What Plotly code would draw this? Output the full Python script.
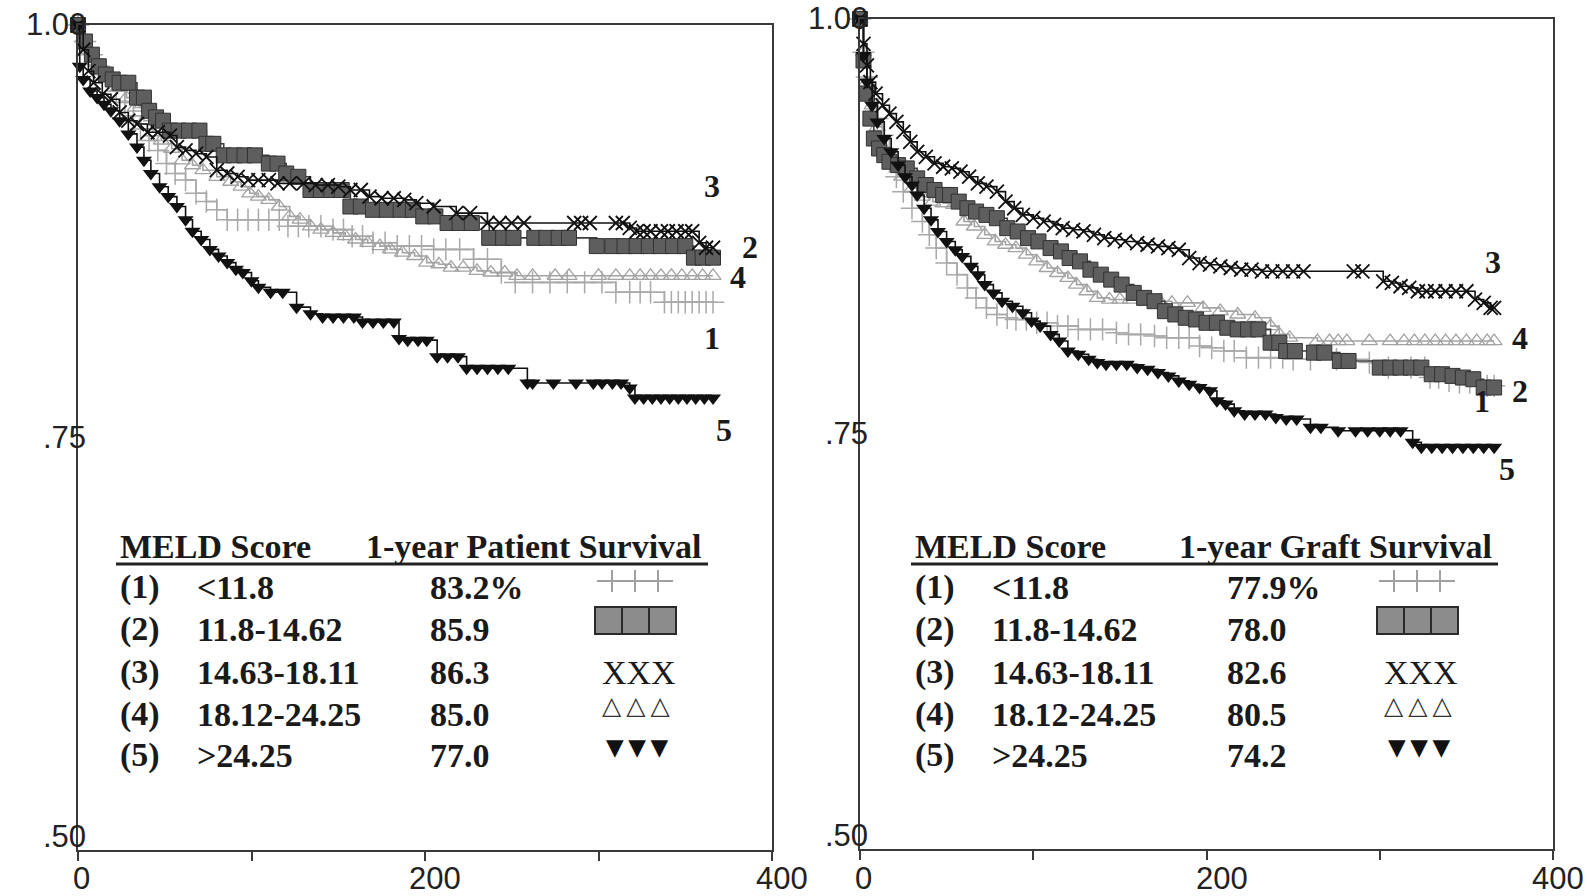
import plotly.graph_objects as go

W, H = 1587, 896

# ---------------- data ----------------
x_tick_vals = [0, 100, 200, 300, 400]
x_label_vals = [0, 200, 400]
x_label_text = ["0", "200", "400"]
y_tick_vals = [1.00, 0.75, 0.50]
y_tick_text = ["1.00", ".75", ".50"]

meld_groups = ["(1)", "(2)", "(3)", "(4)", "(5)"]
meld_ranges = ["<11.8", "11.8-14.62", "14.63-18.11", "18.12-24.25", ">24.25"]
patient_1yr = ["83.2%", "85.9", "86.3", "85.0", "77.0"]
graft_1yr = ["77.9%", "78.0", "82.6", "80.5", "74.2"]
curve_numbers = ["1", "2", "3", "4", "5"]

# Kaplan-Meier points (days, survival); flat repeats = censor marks
patient_g1 = [(0, 1.0), (4, 0.99), (8, 0.982), (12, 0.975), (17, 0.967), (22, 0.96), (27, 0.953), (32, 0.945),
              (36, 0.937), (41, 0.93), (46, 0.924), (51, 0.916), (56, 0.91), (62, 0.906), (68, 0.898), (74, 0.893),
              (80, 0.888), (86, 0.882), (92, 0.882), (98, 0.882), (104, 0.882), (110, 0.882), (116, 0.882),
              (121, 0.878), (127, 0.878), (133, 0.878), (140, 0.878), (147, 0.876), (153, 0.876), (158, 0.872),
              (164, 0.872), (170, 0.868), (177, 0.868), (184, 0.866), (191, 0.866), (198, 0.866), (205, 0.864),
              (212, 0.864), (220, 0.864), (228, 0.858), (236, 0.858), (244, 0.85), (252, 0.844), (262, 0.844),
              (272, 0.844), (282, 0.844), (292, 0.844), (302, 0.844), (310, 0.838), (318, 0.838), (324, 0.838),
              (330, 0.838), (338, 0.832), (342, 0.832), (346, 0.832), (350, 0.832), (354, 0.832), (358, 0.832),
              (362, 0.832), (366, 0.832)]
patient_g2 = [(0, 1.0), (4, 0.99), (8, 0.982), (12, 0.975), (16, 0.97), (20, 0.967), (24, 0.965), (29, 0.965),
              (34, 0.956), (38, 0.956), (41, 0.948), (45, 0.944), (49, 0.942), (53, 0.936), (58, 0.936),
              (64, 0.936), (70, 0.936), (74, 0.928), (78, 0.928), (84, 0.921), (90, 0.921), (96, 0.921),
              (102, 0.921), (110, 0.916), (115, 0.916), (120, 0.91), (127, 0.908), (134, 0.9), (140, 0.9),
              (146, 0.9), (152, 0.9), (157, 0.89), (163, 0.89), (170, 0.888), (178, 0.888), (186, 0.888),
              (193, 0.888), (199, 0.884), (206, 0.884), (213, 0.88), (220, 0.88), (227, 0.88), (237, 0.871),
              (245, 0.871), (251, 0.871), (263, 0.871), (270, 0.871), (277, 0.871), (283, 0.871), (299, 0.866),
              (308, 0.866), (315, 0.866), (322, 0.866), (329, 0.866), (336, 0.866), (343, 0.866), (350, 0.866),
              (355, 0.859), (360, 0.859), (366, 0.859)]
patient_g3 = [(0, 1.0), (3, 0.985), (6, 0.972), (9, 0.965), (14, 0.958), (19, 0.955), (24, 0.947), (29, 0.942),
              (34, 0.94), (40, 0.935), (46, 0.935), (53, 0.933), (57, 0.926), (62, 0.924), (68, 0.922), (74, 0.92),
              (80, 0.912), (86, 0.91), (92, 0.908), (98, 0.906), (104, 0.906), (110, 0.906), (115, 0.904),
              (122, 0.904), (130, 0.904), (137, 0.903), (144, 0.903), (150, 0.902), (157, 0.9), (163, 0.9),
              (168, 0.896), (175, 0.895), (182, 0.895), (188, 0.894), (195, 0.892), (205, 0.89), (218, 0.886),
              (226, 0.886), (236, 0.88), (243, 0.88), (250, 0.88), (257, 0.88), (286, 0.88), (290, 0.88),
              (295, 0.88), (310, 0.88), (314, 0.88), (318, 0.877), (322, 0.875), (326, 0.875), (330, 0.875),
              (336, 0.875), (340, 0.875), (345, 0.875), (350, 0.875), (354, 0.875), (358, 0.868), (362, 0.865),
              (366, 0.865)]
patient_g4 = [(0, 1.0), (3, 0.992), (6, 0.985), (10, 0.978), (14, 0.972), (18, 0.968), (23, 0.962), (28, 0.956),
              (33, 0.95), (38, 0.942), (43, 0.935), (48, 0.93), (54, 0.925), (60, 0.918), (66, 0.915), (72, 0.912),
              (80, 0.908), (88, 0.905), (94, 0.902), (99, 0.898), (104, 0.896), (110, 0.894), (116, 0.89),
              (122, 0.884), (128, 0.882), (134, 0.878), (140, 0.876), (147, 0.874), (154, 0.872), (160, 0.87),
              (167, 0.868), (174, 0.866), (180, 0.864), (187, 0.862), (194, 0.86), (201, 0.856), (208, 0.855),
              (215, 0.853), (222, 0.853), (230, 0.851), (238, 0.85), (246, 0.85), (253, 0.848), (262, 0.848),
              (275, 0.848), (283, 0.848), (300, 0.848), (310, 0.848), (318, 0.848), (324, 0.848), (330, 0.848),
              (336, 0.848), (342, 0.848), (348, 0.848), (354, 0.848), (360, 0.848), (366, 0.848)]
patient_g5 = [(0, 1.0), (1, 0.975), (3, 0.967), (7, 0.96), (11, 0.956), (15, 0.952), (19, 0.948), (24, 0.942),
              (29, 0.934), (34, 0.926), (38, 0.918), (42, 0.91), (47, 0.902), (52, 0.896), (57, 0.89), (62, 0.882),
              (66, 0.875), (71, 0.87), (76, 0.864), (81, 0.86), (86, 0.856), (91, 0.852), (95, 0.85), (100, 0.845),
              (104, 0.841), (111, 0.838), (118, 0.838), (126, 0.829), (134, 0.825), (141, 0.823), (147, 0.823),
              (153, 0.823), (159, 0.823), (164, 0.82), (170, 0.82), (176, 0.82), (182, 0.82), (185, 0.81),
              (190, 0.809), (196, 0.809), (201, 0.809), (207, 0.799), (213, 0.799), (219, 0.799), (224, 0.792),
              (230, 0.792), (236, 0.792), (242, 0.792), (248, 0.792), (259, 0.783), (262, 0.783), (274, 0.783),
              (287, 0.783), (297, 0.783), (302, 0.783), (308, 0.783), (313, 0.783), (318, 0.78), (321, 0.774),
              (326, 0.774), (331, 0.774), (336, 0.774), (341, 0.774), (346, 0.774), (351, 0.774), (356, 0.774),
              (361, 0.774), (366, 0.774)]

graft_g1 = [(0, 1.0), (2, 0.98), (4, 0.965), (7, 0.952), (10, 0.94), (13, 0.93), (17, 0.914), (21, 0.905),
            (25, 0.896), (30, 0.886), (36, 0.878), (40, 0.87), (44, 0.862), (50, 0.853), (56, 0.846), (62, 0.838),
            (67, 0.832), (73, 0.826), (79, 0.822), (85, 0.82), (90, 0.819), (96, 0.819), (102, 0.817),
            (108, 0.817), (114, 0.815), (120, 0.815), (126, 0.813), (133, 0.813), (140, 0.813), (148, 0.811),
            (155, 0.81), (162, 0.81), (170, 0.809), (177, 0.808), (184, 0.808), (190, 0.808), (196, 0.803),
            (203, 0.802), (210, 0.8), (216, 0.8), (223, 0.796), (230, 0.796), (237, 0.796), (244, 0.796),
            (250, 0.795), (260, 0.795), (275, 0.795), (294, 0.793), (305, 0.79), (318, 0.79), (326, 0.79),
            (329, 0.784), (334, 0.784), (340, 0.782), (346, 0.781), (352, 0.781), (358, 0.779), (362, 0.779),
            (366, 0.779)]
graft_g2 = [(0, 1.0), (2, 0.975), (4, 0.955), (6, 0.94), (8, 0.928), (11, 0.922), (14, 0.918), (17, 0.914),
            (22, 0.912), (27, 0.91), (33, 0.904), (38, 0.9), (43, 0.897), (48, 0.894), (52, 0.894), (57, 0.89),
            (62, 0.886), (67, 0.884), (73, 0.882), (79, 0.88), (85, 0.874), (91, 0.872), (97, 0.868),
            (103, 0.866), (110, 0.862), (116, 0.86), (121, 0.856), (127, 0.854), (133, 0.849), (139, 0.846),
            (145, 0.843), (151, 0.84), (158, 0.835), (164, 0.832), (170, 0.83), (176, 0.824), (182, 0.822),
            (188, 0.82), (194, 0.819), (200, 0.817), (206, 0.817), (212, 0.814), (218, 0.813), (224, 0.813),
            (230, 0.813), (237, 0.805), (242, 0.805), (246, 0.8), (251, 0.8), (262, 0.799), (268, 0.799),
            (277, 0.794), (282, 0.794), (300, 0.79), (306, 0.79), (312, 0.79), (318, 0.79), (324, 0.79),
            (330, 0.786), (336, 0.786), (342, 0.785), (348, 0.784), (354, 0.783), (360, 0.778), (366, 0.778)]
graft_g3 = [(0, 1.0), (2, 0.985), (4, 0.972), (6, 0.962), (9, 0.955), (13, 0.948), (17, 0.943), (21, 0.938),
            (25, 0.932), (29, 0.926), (33, 0.92), (38, 0.917), (43, 0.913), (48, 0.911), (53, 0.91), (58, 0.908),
            (63, 0.905), (68, 0.901), (73, 0.899), (79, 0.896), (84, 0.89), (89, 0.886), (94, 0.882), (100, 0.88),
            (106, 0.878), (112, 0.876), (117, 0.874), (123, 0.873), (129, 0.872), (135, 0.87), (141, 0.868),
            (147, 0.867), (153, 0.866), (160, 0.865), (166, 0.864), (172, 0.863), (178, 0.862), (184, 0.861),
            (190, 0.856), (196, 0.853), (202, 0.852), (208, 0.851), (214, 0.85), (220, 0.849), (226, 0.849),
            (232, 0.848), (238, 0.848), (244, 0.848), (250, 0.848), (256, 0.848), (285, 0.848), (290, 0.848),
            (302, 0.842), (307, 0.841), (312, 0.839), (317, 0.838), (322, 0.836), (327, 0.836), (332, 0.836),
            (338, 0.836), (344, 0.836), (350, 0.836), (355, 0.831), (360, 0.829), (364, 0.826), (366, 0.826)]
graft_g4 = [(0, 1.0), (2, 0.98), (4, 0.962), (7, 0.948), (10, 0.935), (14, 0.922), (19, 0.912), (24, 0.905),
            (30, 0.898), (36, 0.893), (42, 0.89), (48, 0.889), (54, 0.888), (60, 0.878), (66, 0.875), (72, 0.87),
            (78, 0.866), (84, 0.864), (90, 0.862), (96, 0.858), (102, 0.854), (108, 0.85), (114, 0.847),
            (120, 0.844), (125, 0.84), (131, 0.836), (137, 0.832), (144, 0.831), (150, 0.831), (156, 0.831),
            (164, 0.831), (173, 0.83), (180, 0.829), (189, 0.829), (198, 0.826), (208, 0.824), (218, 0.822),
            (228, 0.82), (237, 0.815), (242, 0.81), (248, 0.808), (264, 0.806), (271, 0.806), (276, 0.806),
            (281, 0.806), (294, 0.806), (306, 0.806), (314, 0.806), (320, 0.806), (326, 0.806), (332, 0.806),
            (338, 0.806), (344, 0.806), (350, 0.806), (356, 0.806), (362, 0.806), (366, 0.806)]
graft_g5 = [(0, 1.0), (2, 0.978), (4, 0.962), (7, 0.948), (10, 0.938), (14, 0.928), (18, 0.92), (22, 0.912),
            (26, 0.905), (30, 0.9), (33, 0.894), (37, 0.886), (41, 0.879), (45, 0.872), (50, 0.866), (55, 0.861),
            (59, 0.857), (64, 0.851), (68, 0.846), (72, 0.84), (77, 0.835), (82, 0.83), (88, 0.827), (94, 0.823),
            (99, 0.818), (104, 0.815), (110, 0.81), (115, 0.806), (120, 0.8), (126, 0.798), (132, 0.795),
            (137, 0.793), (142, 0.792), (148, 0.792), (154, 0.792), (160, 0.79), (166, 0.789), (172, 0.787),
            (178, 0.785), (184, 0.782), (190, 0.78), (196, 0.778), (202, 0.776), (206, 0.77), (211, 0.768),
            (216, 0.764), (222, 0.762), (228, 0.762), (234, 0.762), (240, 0.76), (246, 0.759), (252, 0.759),
            (260, 0.754), (266, 0.754), (276, 0.752), (286, 0.752), (293, 0.752), (300, 0.752), (306, 0.752),
            (312, 0.752), (319, 0.745), (324, 0.742), (330, 0.742), (336, 0.742), (342, 0.742), (348, 0.742),
            (354, 0.742), (360, 0.742), (366, 0.742)]

# ---------------- styles ----------------
styles = {
    "1": dict(line="#a9a9a9", marker=dict(symbol="cross-thin", size=16, color="#a9a9a9",
                                           line=dict(color="#a9a9a9", width=1.5))),
    "2": dict(line="#3c3c3c", marker=dict(symbol="square", size=15, color="#5e5e5e",
                                           line=dict(color="#333333", width=1))),
    "3": dict(line="#111111", marker=dict(symbol="x-thin", size=14, color="#111111",
                                           line=dict(color="#111111", width=1.8))),
    "4": dict(line="#a3a3a3", marker=dict(symbol="triangle-up-open", size=14, color="#a3a3a3",
                                           line=dict(color="#a3a3a3", width=1.3))),
    "5": dict(line="#111111", marker=dict(symbol="triangle-down", size=14, color="#111111",
                                           line=dict(color="#111111", width=0))),
}
draw_order = ["1", "4", "2", "5", "3"]

panels = [
    dict(xa="x", ya="y", curves={"1": patient_g1, "2": patient_g2, "3": patient_g3, "4": patient_g4, "5": patient_g5}),
    dict(xa="x2", ya="y2", curves={"1": graft_g1, "2": graft_g2, "3": graft_g3, "4": graft_g4, "5": graft_g5}),
]

fig = go.Figure()
for p in panels:
    for k in draw_order:
        pts = p["curves"][k]
        st = styles[k]
        fig.add_trace(go.Scatter(
            x=[a for a, b in pts], y=[b for a, b in pts],
            mode="lines+markers", line=dict(shape="hv", color=st["line"], width=1.6),
            marker=st["marker"], xaxis=p["xa"], yaxis=p["ya"], showlegend=False,
            cliponaxis=False, hoverinfo="skip"))

def px(x):
    return x / W

def py(y):
    return 1 - y / H

# panel geometry (pixels)
L = dict(x0=78, x1=772, y0=25, y1=850)
R = dict(x0=860, x1=1553, y0=19, y1=849)

axis_line = "#3a3a3a"
tick_font = dict(family="Liberation Sans, Arial", size=31, color="#222222")

def xaxis_cfg(g):
    return dict(domain=[px(g["x0"]), px(g["x1"])], range=[0, 400], showline=True, mirror=True,
                linecolor=axis_line, linewidth=2, ticks="outside", ticklen=9, tickwidth=2,
                tickcolor=axis_line, tickvals=x_tick_vals, showticklabels=False,
                showgrid=False, zeroline=False, fixedrange=True, automargin=False)

def yaxis_cfg(g, anchor):
    return dict(domain=[py(g["y1"]), py(g["y0"])], range=[0.5, 1.0], showline=True, mirror=True,
                linecolor=axis_line, linewidth=2, ticks="", showticklabels=False, showgrid=False,
                zeroline=False, anchor=anchor, fixedrange=True, automargin=False)

annotations = []
shapes = []

# y tick labels (overlapping the frame like the original)
for g, yref in ((L, "y"), (R, "y2")):
    for v, t in zip(y_tick_vals, y_tick_text):
        annotations.append(dict(x=px(g["x0"] + 10), xref="paper", xanchor="right", y=v, yref=yref,
                                yanchor="middle", yshift=(14 if v == 0.5 else 0), text=t,
                                showarrow=False, font=tick_font))

# x tick labels
x_label_shift = {"x": [3, 10, 10], "x2": [3, 15, 0]}
for xref in ("x", "x2"):
    for i, (v, t) in enumerate(zip(x_label_vals, x_label_text)):
        last_right = (xref == "x2" and v == 400)
        annotations.append(dict(x=(px(1586) if last_right else v), xref=("paper" if last_right else xref),
                                xanchor=("right" if last_right else "center"),
                                xshift=x_label_shift[xref][i], y=py(878), yref="paper", yanchor="middle",
                                text=t, showarrow=False, font=tick_font))

serif_b = dict(family="Liberation Serif, Times New Roman", size=34, color="#1a1a1a")
serif_r = dict(family="Liberation Serif, Times New Roman", size=34, color="#1a1a1a")

def txt(x, y, s, font, xanchor="left", bold=True):
    annotations.append(dict(x=px(x), y=py(y), xref="paper", yref="paper", xanchor=xanchor,
                            yanchor="middle", text=("<b>%s</b>" % s) if bold else s,
                            showarrow=False, font=font))

# curve end number labels
end_label_pos = {
    "L": {"3": (712, 186), "2": (750, 247), "4": (738, 277), "1": (712, 338), "5": (724, 430)},
    "R": {"3": (1493, 262), "4": (1520, 338), "2": (1520, 391), "1": (1482, 401), "5": (1507, 469)},
}
label_font = dict(family="Liberation Serif, Times New Roman", size=32, color="#1a1a1a")
for side in ("L", "R"):
    for k in curve_numbers:
        x, y = end_label_pos[side][k]
        txt(x, y, k, label_font, xanchor="center")

# tables
tables = [
    dict(x_grp=118, x_rng=195, x_pct=428, head2_x=364, head2="1-year Patient Survival", vals=patient_1yr,
         ul=(116, 708), sym=635),
    dict(x_grp=913, x_rng=990, x_pct=1225, head2_x=1177, head2="1-year Graft Survival", vals=graft_1yr,
         ul=(911, 1498), sym=1417),
]
row_y = [587, 629, 672, 714, 755]
head_y = 546
for tb in tables:
    txt(tb["x_grp"], head_y, "MELD Score", serif_b)
    txt(tb["head2_x"], head_y, tb["head2"], serif_b)
    shapes.append(dict(type="line", xref="paper", yref="paper", x0=px(tb["ul"][0]), x1=px(tb["ul"][1]),
                       y0=py(564), y1=py(564), line=dict(color="#222222", width=3)))
    for i in range(5):
        txt(tb["x_grp"], row_y[i], meld_groups[i], serif_b)
        txt(tb["x_rng"], row_y[i], meld_ranges[i], serif_b)
        txt(tb["x_pct"], row_y[i], tb["vals"][i], serif_b)
    c = tb["sym"]
    # (1) +++ symbol
    shapes.append(dict(type="line", xref="paper", yref="paper", x0=px(c - 38), x1=px(c + 38),
                       y0=py(row_y[0] - 6), y1=py(row_y[0] - 6), line=dict(color="#a0a0a0", width=2)))
    for dx in (-23, 0, 23):
        shapes.append(dict(type="line", xref="paper", yref="paper", x0=px(c + dx), x1=px(c + dx),
                           y0=py(row_y[0] - 17), y1=py(row_y[0] + 5), line=dict(color="#a0a0a0", width=2)))
    # (2) box symbol
    shapes.append(dict(type="rect", xref="paper", yref="paper", x0=px(c - 40), x1=px(c + 41),
                       y0=py(row_y[1] - 22), y1=py(row_y[1] + 5), fillcolor="#8c8c8c",
                       line=dict(color="#2a2a2a", width=2)))
    for dx in (-13, 14):
        shapes.append(dict(type="line", xref="paper", yref="paper", x0=px(c + dx), x1=px(c + dx),
                           y0=py(row_y[1] - 22), y1=py(row_y[1] + 5), line=dict(color="#2a2a2a", width=2)))
    # (3) XXX
    txt(c + 4, row_y[2], "XXX", serif_r, xanchor="center", bold=False)
    # (4) open triangles
    txt(c + 1, row_y[3] - 9, "\u25b3\u2009\u25b3\u2009\u25b3", dict(family="DejaVu Sans", size=25, color="#333333"),
        xanchor="center", bold=False)
    # (5) filled triangles
    txt(c + 2, row_y[4] - 8, "\u25bc\u2009\u25bc\u2009\u25bc", dict(family="DejaVu Sans", size=23, color="#111111"),
        xanchor="center", bold=False)

fig.update_layout(
    width=W, height=H, margin=dict(l=0, r=0, t=0, b=0, pad=0, autoexpand=False),
    paper_bgcolor="white", plot_bgcolor="white",
    xaxis=dict(**xaxis_cfg(L), anchor="y"),
    yaxis=yaxis_cfg(L, "x"),
    xaxis2=dict(**xaxis_cfg(R), anchor="y2"),
    yaxis2=yaxis_cfg(R, "x2"),
    annotations=annotations, shapes=shapes, showlegend=False,
)

fig.write_html("out.html", config={"displayModeBar": False},
               post_script="document.body.style.margin='0px';document.body.style.overflow='hidden';")
